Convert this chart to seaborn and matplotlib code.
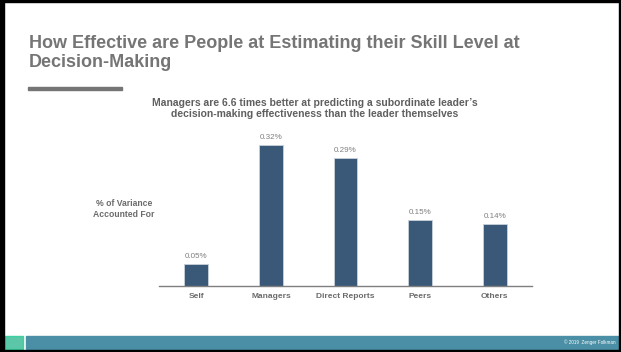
import matplotlib
matplotlib.use("Agg")
import matplotlib.pyplot as plt
from matplotlib.patches import Rectangle
import seaborn as sns

# ======================================================
# DATOS
# ======================================================

categorias = ["Self", "Managers", "Direct Reports", "Peers", "Others"]
valores = [0.05, 0.32, 0.29, 0.15, 0.14]
etiquetas = ["0.05%", "0.32%", "0.29%", "0.15%", "0.14%"]

titulo = ["How Effective are People at Estimating their Skill Level at",
          "Decision-Making"]
subtitulo = ("Managers are 6.6 times better at predicting a subordinate leader\u2019s\n"
             "decision-making effectiveness than the leader themselves")
etiqueta_y = "% of Variance\nAccounted For"

# ======================================================
# ESTILO
# ======================================================

sns.set_style("white")
plt.rcParams["font.family"] = ["Liberation Sans", "DejaVu Sans"]

W, H = 621, 352
fig = plt.figure(figsize=(W / 100, H / 100), dpi=100)

def px(x0, y0, x1, y1):
    # convierte pixeles (origen arriba-izquierda) a coordenadas de figura
    return [x0 / W, 1 - y1 / H, (x1 - x0) / W, (y1 - y0) / H]

ax = fig.add_axes(px(159, 131.7, 532, 285.7))

sns.barplot(x=categorias, y=valores, color="#3a5877", width=0.32,
            edgecolor="#c9d2dc", linewidth=0.6, saturation=1, ax=ax)
ax.set_xlim(-0.5, 4.5)
ax.set_ylim(0, 0.35)

ax.bar_label(ax.containers[0], labels=etiquetas, padding=3,
             fontsize=5.8, color="#7f7f7f")

for s in ["top", "right", "left"]:
    ax.spines[s].set_visible(False)
ax.spines["bottom"].set_color("#7f7f7f")
ax.spines["bottom"].set_linewidth(1)
ax.set_yticks([])
ax.set_ylabel("")
ax.tick_params(axis="x", length=0, pad=5, labelsize=6, labelcolor="#6b6b6b")
for t in ax.get_xticklabels():
    t.set_fontweight("bold")

# ======================================================
# TEXTOS
# ======================================================

for i, linea in enumerate(titulo):
    fig.text(29 / W, 1 - (48 + i * 19) / H, linea, fontsize=13, fontweight="bold",
             color="#757575", va="baseline", ha="left")
fig.patches.append(Rectangle((28 / W, 1 - 89.5 / H), 94 / W, 2.5 / H,
                             transform=fig.transFigure, color="#757575"))

fig.text(315 / W, 1 - 98.5 / H, subtitulo, fontsize=7.5, fontweight="bold",
         color="#5f5f5f", va="top", ha="center", linespacing=1.05)

fig.text(124 / W, 1 - 209 / H, etiqueta_y, fontsize=6.2, fontweight="bold",
         color="#6b6b6b", va="center", ha="center", linespacing=1.3)

# ======================================================
# PIE Y MARCO
# ======================================================

fig.patches.append(Rectangle((26 / W, 1 - 349 / H), 593 / W, 13 / H,
                             transform=fig.transFigure, color="#4a8fa5"))
fig.patches.append(Rectangle((5 / W, 1 - 349 / H), 18 / W, 13 / H,
                             transform=fig.transFigure, facecolor="#5cc7a8",
                             edgecolor="#3ccf9f", linewidth=1))
fig.text(616 / W, 1 - 342.5 / H, "\u00a9 2019  Zenger Folkman", fontsize=3.3,
         color="white", ha="right", va="center")

for r in [(0, 0, W, 2), (0, 349.5, W, 352), (0, 0, 4, H), (619, 0, W, H)]:
    fig.patches.append(Rectangle((r[0] / W, 1 - r[3] / H), (r[2] - r[0]) / W,
                                 (r[3] - r[1]) / H, transform=fig.transFigure,
                                 color="black"))

plt.savefig("out.png", dpi=100)
plt.close()
